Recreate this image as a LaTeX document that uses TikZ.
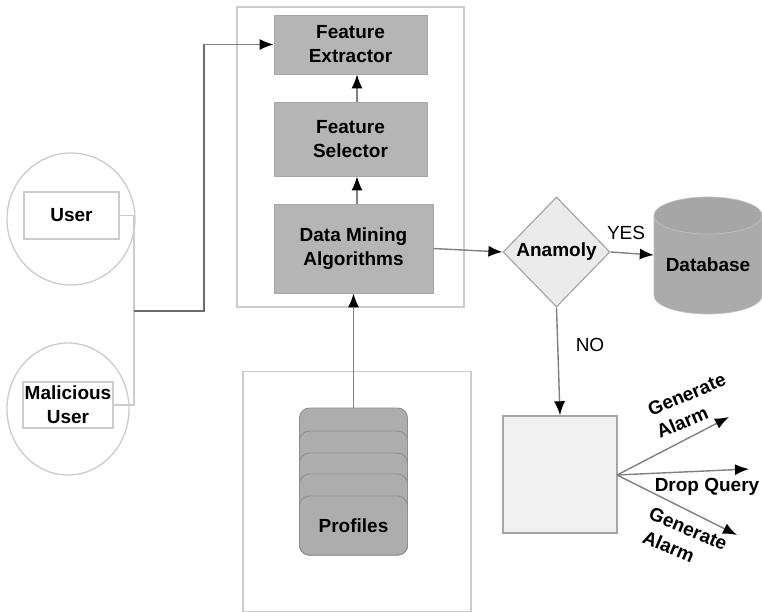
\documentclass[tikz,border=0pt]{standalone}
\usepackage{fontspec}
\setmainfont{Liberation Sans}
\usetikzlibrary{arrows.meta,shapes.geometric}
\definecolor{lightline}{HTML}{CCCCCC}
\definecolor{midline}{HTML}{808080}
\definecolor{boxfill}{HTML}{B5B5B5}
\definecolor{boxline}{HTML}{A6A6A6}
\definecolor{stackfill}{HTML}{ADADAD}
\definecolor{stackline}{HTML}{8E8E8E}
\definecolor{dbbody}{HTML}{ABABAB}
\definecolor{dbtop}{HTML}{A6A6A6}
\tikzset{
  lab/.style={font=\fontsize{19}{24}\selectfont\bfseries,align=center,text=black,inner sep=0pt},
  plainlab/.style={font=\fontsize{19}{24}\selectfont,text=black,inner sep=0pt},
  frame/.style={draw=lightline,line width=1.3pt,minimum width=#1,inner sep=0pt},
  graybox/.style={lab,draw=boxline,fill=boxfill,line width=0.8pt},
  actor/.style={lab,draw=lightline,line width=1.3pt,fill=white},
  userring/.style={ellipse,draw=lightline,line width=1.3pt,fill=white,inner sep=0pt},
  layer/.style={lab,draw=stackline,fill=stackfill,rounded corners=10pt,line width=0.9pt,minimum width=108pt},
  arrow/.style={draw=midline,line width=1.4pt,-{Latex[length=14pt,width=11pt,color=black]}},
  thinlink/.style={draw=lightline,line width=1.3pt},
  trunk/.style={draw=midline!85!black,line width=1.6pt},
  dbshape/.style={draw=black!25,line width=0.7pt}
}
\begin{document}
\begin{tikzpicture}[x=1pt,y=-1pt]
\useasboundingbox (0,0) rectangle (762,612);
% frames
\node[frame=227pt,minimum height=300pt] (top) at (350.5,157) {};
\node[frame=228pt,minimum height=240pt] (bottom) at (357,491.5) {};
% pipeline
\node[graybox,minimum width=153pt,minimum height=59pt] (extract) at (350.5,44.5) {Feature\\Extractor};
\node[graybox,minimum width=153pt,minimum height=74pt] (select) at (350.5,139) {Feature\\Selector};
\node[graybox,minimum width=159pt,minimum height=89pt] (mining) at (353.5,248.5) {Data Mining\\Algorithms};
% users
\node[userring,minimum width=128pt,minimum height=132pt] (ring1) at (71,219) {};
\node[userring,minimum width=122pt,minimum height=132pt] (ring2) at (68,409) {};
\node[actor,minimum width=95pt,minimum height=47pt] (user) at (71.5,215.5) {User};
\node[actor,minimum width=90pt,minimum height=46pt] (mal) at (68,405) {Malicious\\User};
% profiles
\node[layer,minimum height=88pt] (p1) at (353.5,452) {};
\node[layer,minimum height=124pt] (p2) at (353.5,493) {};
\node[layer,minimum height=102pt] (p3) at (353.5,504) {};
\node[layer,minimum height=81pt] (p4) at (353.5,514.5) {};
\node[layer,minimum height=59pt] (p5) at (353.5,525.5) {Profiles};
% decision
\node[diamond,draw=boxline,fill=black!8,line width=1.2pt,minimum width=107pt,minimum height=110pt,inner sep=0pt,lab] (anom) at (556.5,252) {Anamoly};
% database cylinder
\path[dbshape,fill=dbbody] (654,215.5) -- (654,295.5) arc[start angle=180,end angle=0,x radius=54,y radius=18.5] -- (762,215.5) -- cycle;
\path[dbshape,fill=dbtop] (708,215.5) ellipse [x radius=54,y radius=18.5];
\node[lab,minimum width=108pt] (db) at (708,265) {Database};
\node[draw=boxline,fill=black!6,line width=1.4pt,minimum width=114pt,minimum height=117pt,inner sep=0pt] (act) at (560,474.5) {};
% labels
\node[plainlab] (yes) at (626,233) {YES};
\node[plainlab] (no) at (590,345) {NO};
\node[lab,rotate=23] (g1) at (691.5,405.5) {Generate\\Alarm\rule{30pt}{0pt}};
\node[lab] (drop) at (707,487) {Drop Query};
\node[lab,rotate=-23] (g2) at (683.5,540) {Generate\\Alarm\rule{22pt}{0pt}};
% free ends
\coordinate (junction) at (134,311);
\coordinate (bend1) at (204,311);
\coordinate (bend2) at (204,44.5);
\coordinate (fan) at (617,475);
\coordinate (e1) at (729,417);
\coordinate (e2) at (749,469);
\coordinate (e3) at (737,535);
% connectors
\draw[thinlink] (user.east) -- (user.east -| junction) -- (mal.east -| junction) -- (mal.east);
\draw[trunk] (junction) -- (bend1) -- (bend2);
\draw[arrow] (bend2) -- (extract.west);
\draw[arrow] ([xshift=6.5pt]select.north) -- ([xshift=6.5pt]extract.south);
\draw[arrow] ([xshift=3.5pt]mining.north) -- ([xshift=6.5pt]select.south);
\draw[arrow] (p1.north) -- (mining.south);
\draw[arrow] (mining.east) -- (anom.west);
\draw[arrow] (anom.east) -- ([yshift=10pt]db.west);
\draw[arrow] (anom.south) -- (act.north);
\draw[arrow] (fan) -- (e1);
\draw[arrow] (fan) -- (e2);
\draw[arrow] (fan) -- (e3);
\end{tikzpicture}
\end{document}
